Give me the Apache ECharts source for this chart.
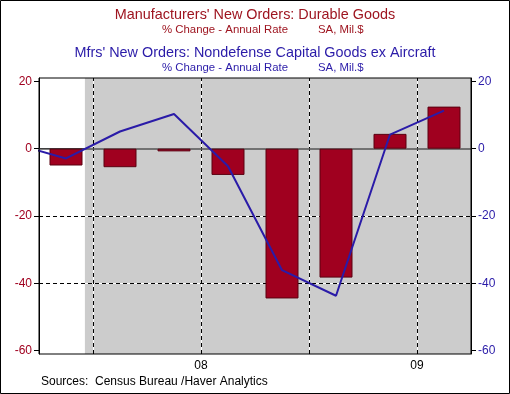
<!DOCTYPE html>
<html><head><meta charset="utf-8">
<script src="https://cdn.jsdelivr.net/npm/echarts@6/dist/echarts.min.js"></script>
<style>html,body{margin:0;padding:0;background:#fff}#c{width:510px;height:394px}</style>
</head><body><div id="c"></div>
<script>
// Quarters shown (2007Q4 .. 2009Q3), previous quarter 2007Q3 only for line entry
const quarters = ['2007Q4','2008Q1','2008Q2','2008Q3','2008Q4','2009Q1','2009Q2','2009Q3'];
const durableGoods = [-5.0, -5.5, -0.8, -7.8, -44.5, -38.3, 4.4, 12.5];
const capitalGoodsExAir = [-2.9, 5.1, 10.3, -5.2, -36.1, -43.7, 4.2, 11.3];
const capitalGoodsPrev = 1.7; // 2007Q3
const yearLabels = {3: '08', 7: '09'};
const yTicks = [-60, -40, -20, 0, 20];
const recessionStart = 0.85; // Dec 2007 within the quarter scale

const RED = '#a0001f', BLUE = '#2a1ba8', FONT = 'Liberation Sans, Arial, sans-serif';
const TRED = '#9e1520';
const barData = durableGoods.map((v, i) => [i + 0.5, v]);
const lineData = [[-0.5, capitalGoodsPrev]].concat(capitalGoodsExAir.map((v, i) => [i + 0.5, v]));

const chart = echarts.init(document.getElementById('c'), null, {renderer: 'canvas'});
const yAxisCommon = {
  type: 'value', min: -61, max: 21,
  axisLine: {show: true, lineStyle: {color: '#000', width: 1}},
  axisTick: {show: true, length: 5, customValues: yTicks, lineStyle: {color: '#000'}},
  splitLine: {show: false},
};
chart.setOption({
  animation: false,
  backgroundColor: '#fff',
  textStyle: {fontFamily: FONT},
  graphic: [
    {type: 'rect', shape: {x: 0.5, y: 0.5, width: 509, height: 393}, style: {fill: 'none', stroke: '#000', lineWidth: 1}, z: 100},
    {type: 'text', left: 'center', top: 8, style: {text: "Manufacturers' New Orders: Durable Goods", fill: TRED, font: '14.4px ' + FONT}},
    {type: 'text', x: 162, y: 24, style: {text: '% Change - Annual Rate', fill: TRED, font: '11.4px ' + FONT}},
    {type: 'text', x: 318, y: 24, style: {text: 'SA, Mil.$', fill: TRED, font: '11.4px ' + FONT}},
    {type: 'text', left: 'center', top: 46, style: {text: "Mfrs' New Orders: Nondefense Capital Goods ex Aircraft", fill: BLUE, font: '14.4px ' + FONT}},
    {type: 'text', x: 162, y: 62, style: {text: '% Change - Annual Rate', fill: BLUE, font: '11.4px ' + FONT}},
    {type: 'text', x: 318, y: 62, style: {text: 'SA, Mil.$', fill: BLUE, font: '11.4px ' + FONT}},
    {type: 'text', x: 41, y: 376, style: {text: 'Sources:  Census Bureau /Haver Analytics', fill: '#000', font: '12px ' + FONT}}
  ],
  grid: {left: 39, right: 39, top: 78, bottom: 40, show: true, borderColor: '#000', borderWidth: 1, backgroundColor: 'transparent', z: 10},
  xAxis: {
    type: 'value', min: 0, max: 8, interval: 1,
    axisLine: {show: true, lineStyle: {color: '#000'}},
    axisTick: {show: true, length: 9, lineStyle: {color: '#000'}},
    axisLabel: {show: true, customValues: [3, 7], formatter: v => yearLabels[v] || '', color: '#000', fontSize: 12, fontFamily: FONT, margin: 6},
    splitLine: {show: false}
  },
  yAxis: [
    Object.assign({}, yAxisCommon, {position: 'left', axisLabel: {customValues: yTicks, color: RED, fontSize: 12, fontFamily: FONT, margin: 7}}),
    Object.assign({}, yAxisCommon, {position: 'right', axisLabel: {customValues: yTicks, color: BLUE, fontSize: 12, fontFamily: FONT, margin: 7}})
  ],
  series: [
    {
      type: 'line', data: [], z: 1, silent: true,
      markArea: {silent: true, itemStyle: {color: '#cccccc'}, data: [[{xAxis: recessionStart}, {xAxis: 8}]]}
    },
    {
      type: 'line', data: [], z: 2, silent: true,
      markLine: {silent: true, symbol: 'none', label: {show: false},
        lineStyle: {color: '#ffffff', type: 'solid', width: 1},
        data: [{yAxis: -20}, {yAxis: -40}, {xAxis: 1}, {xAxis: 3}, {xAxis: 5}, {xAxis: 7}]}
    },
    {
      type: 'line', data: [], z: 3, silent: true,
      markLine: {silent: true, symbol: 'none', label: {show: false},
        lineStyle: {color: '#000000', type: [4, 3], width: 1},
        data: [{yAxis: -20}, {yAxis: -40}, {xAxis: 1}, {xAxis: 3}, {xAxis: 5}, {xAxis: 7}]}
    },
    {
      type: 'line', data: [], z: 4, silent: true,
      markLine: {silent: true, symbol: 'none', label: {show: false},
        lineStyle: {color: '#555555', type: 'solid', width: 1.5},
        data: [{yAxis: 0}]}
    },
    {
      name: 'Durable Goods', type: 'bar', data: barData, barWidth: 33, z: 5,
      itemStyle: {color: RED, borderColor: '#5a0010', borderWidth: 1}
    },
    {
      name: 'Nondefense Capital Goods ex Aircraft', type: 'line', data: lineData, z: 6, clip: true,
      showSymbol: false, symbol: 'none', lineStyle: {color: BLUE, width: 2}
    }
  ]
});
</script></body></html>
